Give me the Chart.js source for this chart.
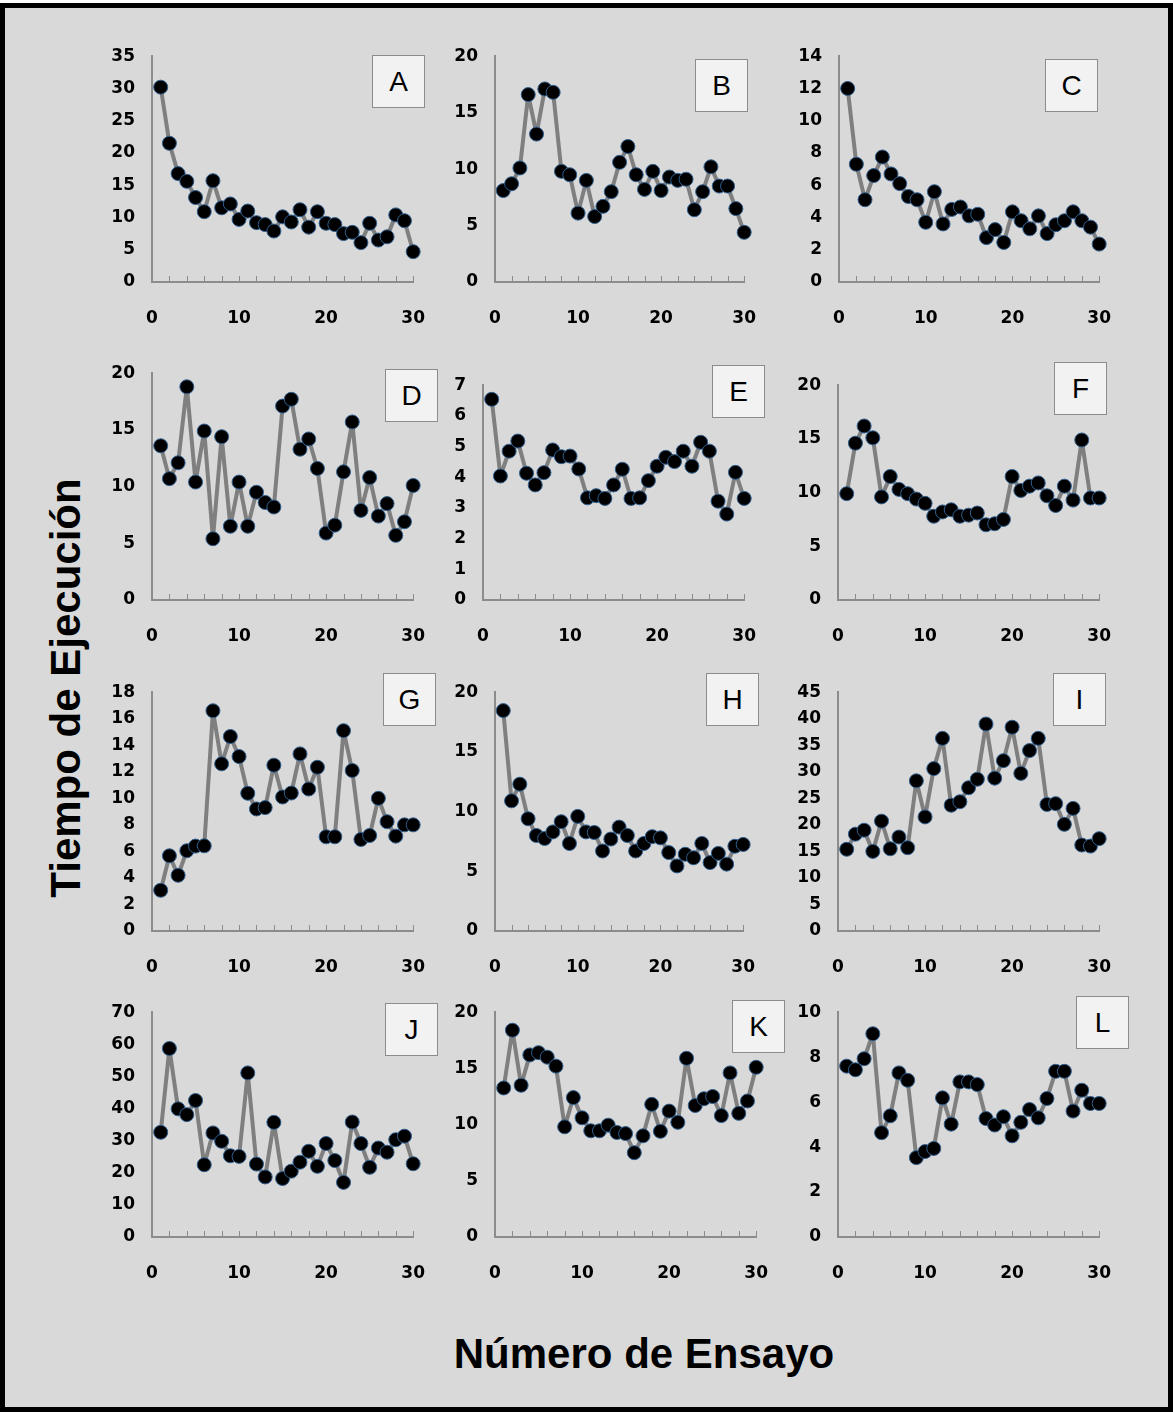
<!DOCTYPE html>
<html>
<head>
<meta charset="utf-8">
<script src="https://cdn.jsdelivr.net/npm/chart.js@4.4.0/dist/chart.umd.min.js"></script>
<style>
  body { margin: 0; background: #fff; }
  #frame {
    position: absolute; left: 0; top: 3px; width: 1173px; height: 1409px;
    box-sizing: border-box; border: 5px solid #000; background: #d9d9d9;
  }
  canvas { position: absolute; }
  .tag {
    position: absolute; width: 53px; height: 53px; box-sizing: border-box;
    background: #f2f2f2; border: 1px solid #8c8c8c;
    font: 28px "Liberation Sans", Arial, sans-serif; color: #000;
    display: flex; align-items: center; justify-content: center;
  }
  .title { position: absolute; font: bold 42px "Liberation Sans", Arial, sans-serif; color: #000; white-space: nowrap; }
</style>
</head>
<body>
<div id="frame"></div>
<div class="title" id="ytitle">Tiempo de Ejecución</div>
<div class="title" id="xtitle">Número de Ensayo</div>
<script>
// trial number (x) shared by every panel
const trials = [1,2,3,4,5,6,7,8,9,10,11,12,13,14,15,16,17,18,19,20,21,22,23,24,25,26,27,28,29,30];

const seriesA = [30.2,21.5,16.8,15.6,13.1,10.9,15.7,11.5,12.1,9.7,11.0,9.2,8.9,7.9,10.1,9.3,11.2,8.5,10.9,9.1,8.9,7.5,7.7,6.1,9.1,6.5,7.0,10.4,9.5,4.7];
const seriesB = [8.1,8.7,10.1,16.6,13.1,17.1,16.8,9.8,9.5,6.1,9.0,5.8,6.7,8.0,10.6,12.0,9.5,8.2,9.8,8.1,9.3,9.0,9.1,6.4,8.0,10.2,8.5,8.5,6.5,4.4];
const seriesC = [12.0,7.3,5.1,6.6,7.75,6.7,6.1,5.3,5.1,3.7,5.6,3.6,4.5,4.65,4.1,4.2,2.75,3.25,2.45,4.35,3.8,3.3,4.1,3.0,3.55,3.8,4.35,3.8,3.4,2.35];
const seriesD = [13.6,10.7,12.1,18.8,10.4,14.9,5.4,14.4,6.5,10.4,6.5,9.5,8.6,8.2,17.1,17.7,13.3,14.2,11.6,5.9,6.6,11.3,15.7,7.9,10.8,7.4,8.5,5.7,6.9,10.1];
const seriesE = [6.54,4.04,4.85,5.18,4.13,3.75,4.15,4.89,4.67,4.69,4.27,3.33,3.40,3.31,3.75,4.26,3.31,3.33,3.89,4.36,4.65,4.51,4.85,4.36,5.14,4.85,3.22,2.80,4.16,3.31];
const seriesF = [9.9,14.6,16.2,15.1,9.6,11.5,10.3,9.9,9.4,9.0,7.8,8.2,8.4,7.8,7.9,8.1,7.0,7.1,7.5,11.5,10.2,10.6,10.9,9.7,8.8,10.6,9.3,14.9,9.5,9.5];
const seriesG = [3.07,5.67,4.2,6.05,6.4,6.42,16.6,12.6,14.66,13.15,10.38,9.2,9.3,12.5,10.1,10.4,13.35,10.7,12.34,7.1,7.1,15.1,12.1,6.9,7.2,10.0,8.24,7.15,8.0,8.0];
const seriesH = [18.46,10.9,12.3,9.4,8.0,7.75,8.3,9.15,7.33,9.6,8.3,8.25,6.7,7.7,8.7,8.0,6.7,7.33,7.9,7.8,6.57,5.45,6.43,6.13,7.33,5.73,6.5,5.6,7.1,7.25];
const seriesI = [15.4,18.25,19.0,15.0,20.7,15.5,17.7,15.7,28.3,21.5,30.6,36.3,23.7,24.35,27.0,28.6,39.0,28.8,32.1,38.4,29.7,34.0,36.3,23.85,24.0,20.1,23.1,16.2,16.0,17.4];
const seriesJ = [32.6,58.7,39.9,38.1,42.5,22.5,32.4,29.8,25.3,25.1,51.1,22.7,18.7,35.7,18.2,20.5,23.3,26.7,22.0,29.1,23.8,17.0,35.8,29.1,21.7,27.7,26.4,30.3,31.4,22.8];
const seriesK = [13.26,18.4,13.5,16.2,16.4,16.0,15.2,9.8,12.4,10.6,9.45,9.45,9.95,9.3,9.2,7.5,9.0,11.8,9.4,11.2,10.2,15.9,11.7,12.3,12.5,10.8,14.6,11.0,12.1,15.1];
const seriesL = [7.6,7.44,7.93,9.04,4.64,5.39,7.3,6.97,3.53,3.8,3.94,6.19,5.02,6.9,6.9,6.78,5.27,4.98,5.35,4.5,5.1,5.67,5.3,6.16,7.37,7.37,5.6,6.53,5.94,5.94];

// y axis ranges per panel
const yMax  = { A: 35, B: 20, C: 14, D: 20, E: 7, F: 20, G: 18, H: 20, I: 45, J: 70, K: 20, L: 10 };
const yStep = { A: 5,  B: 5,  C: 2,  D: 5,  E: 1, F: 5,  G: 2,  H: 5,  I: 5,  J: 10, K: 5,  L: 2 };
const xTicks = [0, 10, 20, 30];

const series = { A: seriesA, B: seriesB, C: seriesC, D: seriesD, E: seriesE, F: seriesF,
                 G: seriesG, H: seriesH, I: seriesI, J: seriesJ, K: seriesK, L: seriesL };

// where each plot area sits on the page: left, right, top, bottom, and the tag box corner
const layout = {
  A: [152, 433, 56.5, 282, 372, 55],
  B: [495, 764, 56, 282, 695, 59],
  C: [839, 1119, 56, 282, 1045, 59],
  D: [152, 433, 373, 600, 385, 369],
  E: [483, 764, 385, 600, 712, 365],
  F: [838, 1119, 385, 600, 1054, 362],
  G: [152, 433, 692, 931, 383, 673],
  H: [495, 763, 692, 931, 706, 673],
  I: [838, 1119, 692, 931, 1053, 673],
  J: [152, 433, 1012.5, 1237, 385, 1003],
  K: [495, 776, 1012, 1237, 732, 1000],
  L: [838, 1119, 1012, 1237, 1076, 996]
};

const YW = 60, PAD_RIGHT = 18, XH = 52;
const tickFont = { family: "'DejaVu Sans', Verdana, sans-serif", size: 17, weight: 'bold' };

// small upward tick marks on the x axis every 2 trials
const innerTicks = {
  id: 'innerTicks',
  afterDraw(chart) {
    const xs = chart.scales.x, ctx = chart.ctx, y = chart.chartArea.bottom;
    ctx.save();
    ctx.strokeStyle = '#8c8c8c';
    ctx.lineWidth = 1;
    for (let v = 2; v <= 30; v += 2) {
      const px = Math.round(xs.getPixelForValue(v)) + 0.5;
      ctx.beginPath();
      ctx.moveTo(px, y);
      ctx.lineTo(px, y - 6);
      ctx.stroke();
    }
    ctx.restore();
  }
};

Object.keys(series).forEach(key => {
  const [L, R, T, B, tx, ty] = layout[key];
  const canvas = document.createElement('canvas');
  const w = Math.round(R - L + YW + PAD_RIGHT);
  let h = Math.round(B - T + 20 + XH);
  canvas.width = w; canvas.height = h;
  canvas.style.width = w + 'px'; canvas.style.height = h + 'px';
  document.body.appendChild(canvas);

  const chart = new Chart(canvas.getContext('2d'), {
    type: 'line',
    data: {
      datasets: [{
        data: trials.map((t, i) => ({ x: t, y: series[key][i] })),
        borderColor: '#7f7f7f',
        borderWidth: 4,
        borderJoinStyle: 'round',
        pointRadius: 7,
        pointBackgroundColor: '#000',
        pointBorderColor: '#2f5f8f',
        pointBorderWidth: 1,
        tension: 0,
        clip: false
      }]
    },
    options: {
      responsive: false,
      maintainAspectRatio: false,
      animation: false,
      layout: { padding: { left: 0, top: 0, right: PAD_RIGHT, bottom: 0 } },
      plugins: { legend: { display: false }, tooltip: { enabled: false } },
      scales: {
        x: {
          type: 'linear', min: 0, max: 30,
          afterBuildTicks: s => { s.ticks = xTicks.map(v => ({ value: v })); },
          afterFit: s => { s.height = XH; },
          grid: { display: false, drawTicks: false },
          border: { display: true, color: '#8c8c8c', width: 2 },
          ticks: { font: tickFont, color: '#000', padding: 26, maxRotation: 0 }
        },
        y: {
          min: 0, max: yMax[key],
          afterFit: s => { s.width = YW; },
          grid: { display: false, drawTicks: false },
          border: { display: true, color: '#8c8c8c', width: 2 },
          ticks: { stepSize: yStep[key], font: tickFont, color: '#000', padding: 17 }
        }
      }
    },
    plugins: [innerTicks]
  });

  // fit the canvas so the plot area lands on the wanted page box
  const top0 = chart.chartArea.top;
  const below = h - chart.chartArea.bottom;
  h = Math.round(B - T + top0 + below);
  chart.resize(w, h);
  const ca = chart.chartArea;
  canvas.style.left = (L - ca.left) + 'px';
  canvas.style.top = (T - ca.top) + 'px';

  const tag = document.createElement('div');
  tag.className = 'tag';
  tag.textContent = key;
  tag.style.left = tx + 'px';
  tag.style.top = ty + 'px';
  document.body.appendChild(tag);
});

// axis titles
const yt = document.getElementById('ytitle');
yt.style.left = '66px'; yt.style.top = '688px';
yt.style.transform = 'translate(-50%, -50%) rotate(-90deg)';
const xt = document.getElementById('xtitle');
xt.style.left = '644px'; xt.style.top = '1354px';
xt.style.transform = 'translate(-50%, -50%)';
</script>
</body>
</html>
